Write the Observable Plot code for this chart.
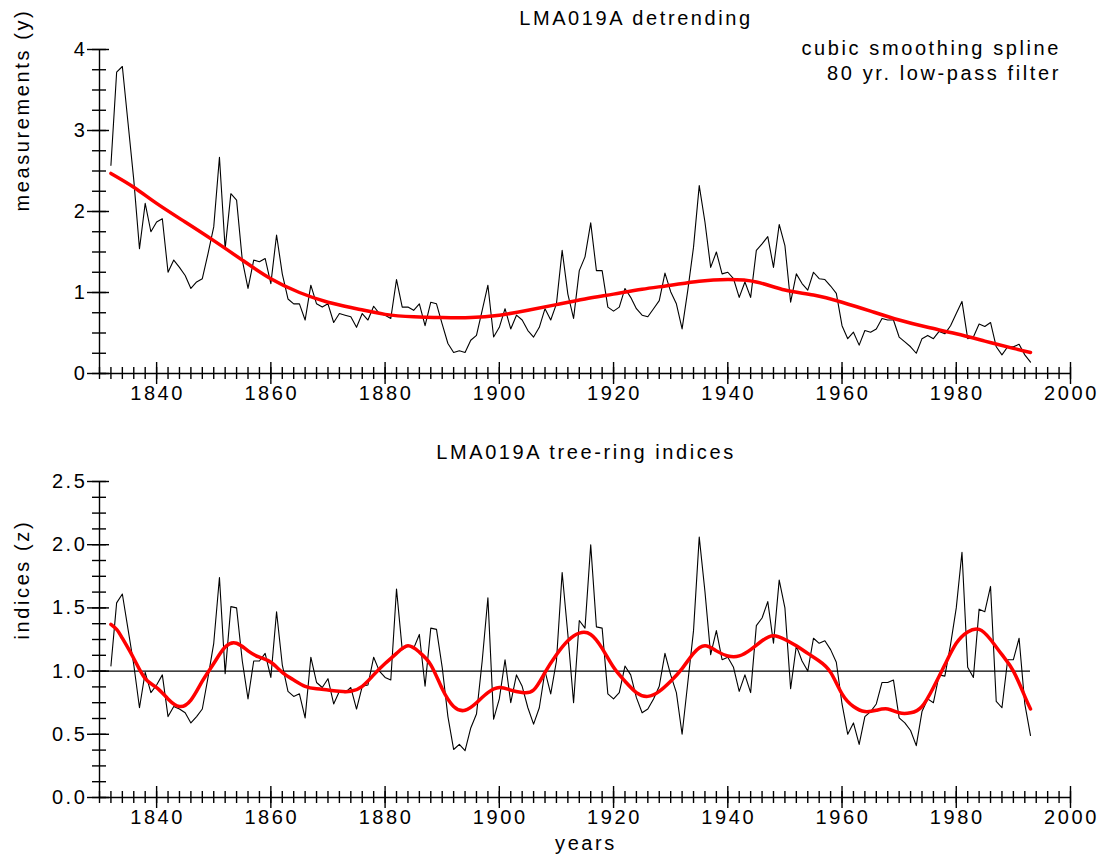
<!DOCTYPE html>
<html>
<head>
<meta charset="utf-8">
<script src="https://cdn.jsdelivr.net/npm/d3@7"></script>
<script src="https://cdn.jsdelivr.net/npm/@observablehq/plot@0.6"></script>
<style>
  html, body { margin: 0; padding: 0; background: #fff; }
  #wrap { position: relative; width: 1104px; height: 854px; font-family: "Liberation Sans", "DejaVu Sans", sans-serif; color: #000; }
  .lbl { position: absolute; font-size: 20px; letter-spacing: 2.6px; white-space: nowrap; line-height: 1; }
  .panel { position: absolute; left: 0; }
</style>
</head>
<body>
<div id="wrap">
  <div class="panel" id="p1" style="top:0;"></div>
  <div class="panel" id="p2" style="top:425px;"></div>
  <div class="lbl" style="left:0; width:1272px; text-align:center; top:8px;">LMA019A detrending</div>
  <div class="lbl" style="right:43px; top:38px; text-align:right;">cubic smoothing spline</div>
  <div class="lbl" style="right:43px; top:63px; text-align:right;">80 yr. low-pass filter</div>
  <div class="lbl" style="left:0; width:1172px; text-align:center; top:442px;">LMA019A tree-ring indices</div>
  <div class="lbl" style="left:0; width:1172px; text-align:center; top:833px;">years</div>
</div>
<script>
// ---- data ----
const firstYear = 1832;
const measurements = [
  2.57,3.72,3.79,3.09,2.39,1.54,2.10,1.75,1.87,1.91,
  1.25,1.40,1.31,1.21,1.05,1.13,1.17,1.48,1.81,2.67,
  1.54,2.22,2.14,1.40,1.05,1.40,1.38,1.42,1.11,1.71,
  1.23,0.92,0.86,0.86,0.66,1.09,0.86,0.82,0.86,0.63,
  0.74,0.72,0.70,0.57,0.74,0.66,0.83,0.74,0.72,0.68,
  1.16,0.82,0.82,0.78,0.86,0.59,0.88,0.86,0.61,0.37,
  0.26,0.28,0.26,0.41,0.47,0.78,1.09,0.45,0.57,0.80,
  0.55,0.72,0.66,0.53,0.45,0.57,0.80,0.66,0.86,1.52,
  0.98,0.68,1.27,1.44,1.86,1.27,1.27,0.82,0.77,0.82,
  1.05,0.94,0.80,0.72,0.70,0.80,0.90,1.24,1.01,0.86,
  0.55,1.03,1.56,2.32,1.87,1.31,1.50,1.23,1.25,1.17,
  0.94,1.13,0.94,1.52,1.60,1.69,1.31,1.84,1.58,0.88,
  1.23,1.11,1.03,1.25,1.17,1.16,1.08,0.99,0.59,0.43,
  0.51,0.35,0.53,0.51,0.55,0.68,0.66,0.66,0.45,0.39,
  0.33,0.25,0.43,0.47,0.43,0.52,0.49,0.59,0.74,0.89,
  0.43,0.45,0.61,0.58,0.63,0.33,0.23,0.33,0.33,0.36,
  0.23,0.14
];
const indices = [
  1.04,1.54,1.61,1.33,1.05,0.71,0.99,0.83,0.89,0.97,
  0.64,0.72,0.70,0.67,0.59,0.64,0.70,0.95,1.22,1.74,
  0.98,1.51,1.50,1.08,0.78,1.08,1.08,1.14,0.95,1.47,
  1.05,0.84,0.80,0.82,0.63,1.11,0.91,0.87,0.94,0.74,
  0.84,0.83,0.87,0.70,0.88,0.89,1.11,1.00,0.95,0.93,
  1.65,1.17,1.20,1.18,1.29,0.88,1.34,1.33,1.03,0.64,
  0.38,0.42,0.37,0.55,0.66,1.08,1.58,0.62,0.78,1.09,
  0.75,0.97,0.88,0.71,0.58,0.71,1.00,0.82,1.08,1.78,
  1.29,0.75,1.40,1.34,2.00,1.35,1.34,0.82,0.78,0.83,
  1.04,0.97,0.79,0.67,0.70,0.78,0.88,1.14,0.97,0.83,
  0.50,0.91,1.32,2.06,1.63,1.13,1.32,1.09,1.11,1.03,
  0.84,0.97,0.83,1.36,1.42,1.55,1.22,1.72,1.50,0.86,
  1.20,1.08,1.00,1.26,1.22,1.24,1.17,1.07,0.74,0.50,
  0.59,0.42,0.64,0.68,0.74,0.91,0.91,0.93,0.63,0.59,
  0.53,0.41,0.68,0.78,0.75,0.97,0.96,1.21,1.50,1.94,
  1.03,0.95,1.49,1.47,1.67,0.76,0.71,1.09,1.09,1.26,
  0.74,0.49
];
const splineYears = [1832,1836,1840,1845,1850,1855,1860,1865,1870,1875,1880,1885,1890,1895,1900,1905,1910,1915,1920,1925,1930,1935,1940,1945,1950,1955,1960,1965,1970,1975,1980,1985,1990,1993];
const splineValues = [2.47,2.30,2.10,1.87,1.64,1.40,1.17,1.00,0.88,0.80,0.73,0.70,0.69,0.69,0.72,0.78,0.85,0.92,0.98,1.04,1.09,1.14,1.16,1.13,1.03,0.97,0.88,0.77,0.66,0.57,0.49,0.40,0.31,0.26];
const filterYears = [1832,1833,1834,1836,1838,1840,1842,1844,1846,1848,1850,1852,1854,1856,1858,1860,1862,1864,1866,1868,1870,1872,1874,1876,1878,1880,1882,1884,1886,1888,1890,1892,1894,1896,1898,1900,1902,1904,1906,1908,1910,1912,1914,1916,1918,1920,1922,1924,1926,1928,1930,1932,1934,1936,1938,1940,1942,1944,1946,1948,1950,1952,1954,1956,1958,1960,1962,1964,1966,1968,1970,1972,1974,1976,1978,1980,1982,1984,1986,1988,1990,1992,1993];
const filterValues = [1.37,1.33,1.26,1.10,0.94,0.87,0.78,0.72,0.77,0.92,1.06,1.19,1.22,1.16,1.11,1.07,0.99,0.93,0.88,0.86,0.85,0.84,0.84,0.88,0.97,1.06,1.14,1.20,1.15,1.05,0.86,0.72,0.69,0.75,0.83,0.87,0.85,0.83,0.85,0.99,1.13,1.24,1.30,1.29,1.18,1.03,0.92,0.83,0.80,0.84,0.92,1.02,1.14,1.20,1.16,1.12,1.12,1.17,1.24,1.28,1.25,1.20,1.14,1.08,0.99,0.82,0.72,0.68,0.69,0.70,0.67,0.67,0.72,0.87,1.05,1.22,1.31,1.33,1.25,1.13,1.00,0.80,0.70];
const xMajorTicks = [1840,1860,1880,1900,1920,1940,1960,1980,2000];
const topYTicks = [0,1,2,3,4];
const bottomYTicks = [0.0,0.5,1.0,1.5,2.0,2.5];
const xDomain = [1830, 2000];
const referenceLevel = 1;

// ---- tables ----
const rawTable = measurements.map((v, i) => ({year: firstYear + i, value: v}));
const idxTable = indices.map((v, i) => ({year: firstYear + i, value: v}));
const splTable = splineYears.map((y, i) => ({year: y, value: splineValues[i]}));
const filTable = filterYears.map((y, i) => ({year: y, value: filterValues[i]}));
const lastYear = firstYear + measurements.length - 1;
const xMinor = d3.range(xDomain[0], xDomain[1] + 1, 2);

const chartFont = '"Liberation Sans", "DejaVu Sans", sans-serif';
const axisW = 1.4;
const fs = 20;

function axesMarks(yDomain, yMajor, yMinorStep, yFmt) {
  const yMinor = d3.range(0, Math.round((yDomain[1] - yDomain[0]) / yMinorStep) + 1).map(k => yDomain[0] + k * yMinorStep);
  return [
    Plot.ruleY([yDomain[0]], {stroke: "black", strokeWidth: axisW}),
    Plot.ruleX([xDomain[0]], {stroke: "black", strokeWidth: axisW}),
    Plot.axisX({ticks: xMinor, tickSize: 12, dy: -6, text: null, label: null, strokeWidth: axisW}),
    Plot.axisX({ticks: xMajorTicks, tickSize: 22, dy: -11, text: null, label: null, strokeWidth: axisW}),
    Plot.axisX({ticks: xMajorTicks, tickSize: 0, tickPadding: 12, dx: 1, tickFormat: d => String(d), label: null, fontSize: fs}),
    Plot.axisY({ticks: yMinor, tickSize: 14, dx: 7, text: null, label: null, strokeWidth: axisW}),
    Plot.axisY({ticks: yMajor, tickSize: 22, dx: 10, text: null, label: null, strokeWidth: axisW}),
    Plot.axisY({ticks: yMajor, tickSize: 0, tickPadding: 12, tickFormat: yFmt, label: null, fontSize: fs})
  ];
}

const chartStyle = {fontFamily: chartFont, fontSize: fs + "px", letterSpacing: "2.6px", background: "white", color: "black", overflow: "visible"};

const chartTop = Plot.plot({
  width: 1104, height: 425,
  marginTop: 49, marginBottom: 52, marginLeft: 99, marginRight: 34,
  style: chartStyle,
  x: {domain: xDomain},
  y: {domain: [0, 4]},
  marks: [
    ...axesMarks([0, 4], topYTicks, 0.25, d => String(d)),
    Plot.line(rawTable, {x: "year", y: "value", stroke: "black", strokeWidth: 1.1}),
    Plot.line(splTable, {x: "year", y: "value", stroke: "#ff0000", strokeWidth: 3.5, curve: "natural"}),
    Plot.text(["measurements (y)"], {frameAnchor: "left", rotate: -90, dx: -77, text: d => d, fontSize: fs})
  ]
});
document.getElementById("p1").appendChild(chartTop);

const chartBottom = Plot.plot({
  width: 1104, height: 429,
  marginTop: 56, marginBottom: 57, marginLeft: 99, marginRight: 34,
  style: chartStyle,
  x: {domain: xDomain},
  y: {domain: [0, 2.5]},
  marks: [
    ...axesMarks([0, 2.5], bottomYTicks, 0.125, d3.format(".1f")),
    Plot.ruleY([referenceLevel], {x1: xDomain[0], x2: lastYear, stroke: "black", strokeWidth: 1.2}),
    Plot.line(idxTable, {x: "year", y: "value", stroke: "black", strokeWidth: 1.1}),
    Plot.line(filTable, {x: "year", y: "value", stroke: "#ff0000", strokeWidth: 3.5, curve: "natural"}),
    Plot.text(["indices (z)"], {frameAnchor: "left", rotate: -90, dx: -77, text: d => d, fontSize: fs})
  ]
});
document.getElementById("p2").appendChild(chartBottom);
</script>
</body>
</html>
